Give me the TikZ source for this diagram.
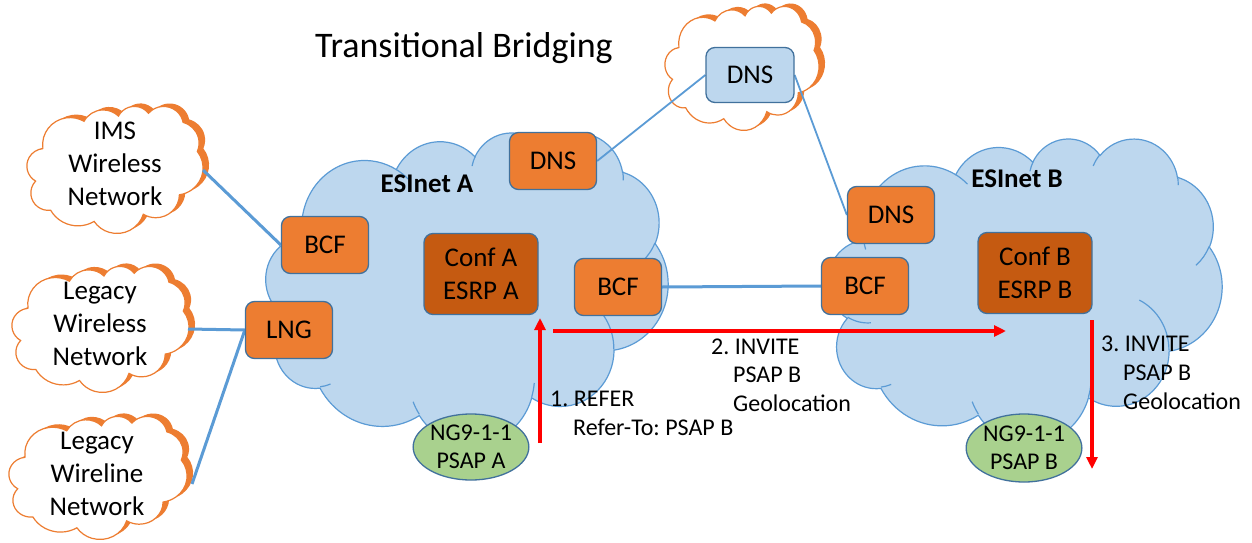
\documentclass[tikz,border=0pt]{standalone}
\usepackage{fontspec}
\setmainfont{Carlito}
\frenchspacing
\usetikzlibrary{arrows.meta,shapes.geometric}
\definecolor{boxor}{HTML}{ED7D31}
\definecolor{confor}{HTML}{C55A11}
\definecolor{lblue}{HTML}{BDD7EE}
\definecolor{edgeb}{HTML}{41719C}
\definecolor{lineb}{HTML}{5B9BD5}
\definecolor{psapg}{HTML}{A9D18E}
\definecolor{redarr}{HTML}{FF0000}
\pgfdeclarelayer{cloudlayer}
\pgfdeclarelayer{linelayer}
\pgfsetlayers{cloudlayer,linelayer,main}
% PowerPoint cloud arcs (OOXML arcTo, visual angles -> parametric)
\newcommand\defarc[5]{%
  \pgfmathsetmacro\cldta{atan2(#2*sin(#4),#3*cos(#4))}%
  \pgfmathsetmacro\cldtb{atan2(#2*sin(#4+#5),#3*cos(#4+#5))}%
  \pgfmathsetmacro\cldtd{mod(\cldtb-\cldta+720,360)}%
  \expandafter\xdef\csname cld#1\endcsname{arc[x radius=#2,y radius=#3,start angle=\cldta,delta angle=\cldtd]}}
\defarc{A}{67.53}{91.90}{-190.4875}{123.7805}
\defarc{B}{53.33}{72.67}{-144.1024}{89.9452}
\defarc{C}{43.65}{59.45}{-145.8079}{99.7230}
\defarc{D}{48.57}{65.95}{-130.9861}{117.2417}
\defarc{E}{53.33}{72.73}{-78.7089}{109.0269}
\defarc{F}{67.75}{92.20}{-46.2673}{130.2690}
\defarc{G}{57.85}{78.67}{0.6250}{114.0333}
\defarc{H}{67.52}{92.15}{22.4516}{115.1726}
\defarc{I}{77.20}{105.43}{66.2426}{75.7110}
\defarc{J}{43.60}{59.18}{-274.9421}{146.7356}
\defarc{K}{43.45}{59.45}{-246.8285}{152.5189}
\defarc{L}{43.45}{59.45}{86.742}{26.430}
\defarc{M}{43.60}{59.18}{73.610}{11.447}
\defarc{N}{67.52}{92.15}{137.624}{14.081}
\defarc{O}{67.52}{92.15}{6.453}{15.998}
\defarc{P}{57.85}{78.67}{-70.292}{70.917}
\defarc{Q}{53.33}{72.73}{30.318}{27.752}
\defarc{R}{48.57}{65.95}{-13.744}{14.859}
\defarc{S}{48.57}{65.95}{-149.181}{18.195}
\defarc{T}{43.65}{59.45}{-163.494}{17.686}
\defarc{U}{67.53}{91.90}{-66.707}{12.319}
\defarc{V}{67.53}{91.90}{157.654}{11.858}
\newcommand\pptcloud[5]{%
  \pgfmathsetmacro\cldw{#3/432}\pgfmathsetmacro\cldh{#4/432}%
  \begin{scope}[shift={(#1,#2)},x=\cldw pt,y=-\cldh pt]
    \path[#5] (39.00,143.70) \cldA \cldB \cldC \cldD \cldE \cldF \cldG \cldH \cldI \cldJ \cldK -- cycle;
  \end{scope}}
\newcommand\pptcloudinner[5]{%
  \pgfmathsetmacro\cldw{#3/432}\pgfmathsetmacro\cldh{#4/432}%
  \begin{scope}[shift={(#1,#2)},x=\cldw pt,y=-\cldh pt]
    \path[#5] (46.93,261.77) \cldL (69.28,348.99) \cldM (164.78,390.90) \cldN
      (288.27,347.51) \cldO (341.29,229.54) \cldP (417.98,153.54) \cldQ
      (383.24,54.26) \cldR (290.78,39.52) \cldS (221.41,47.20) \cldT
      (140.00,51.92) \cldU (41.27,157.89) \cldV;
  \end{scope}}
\newcommand\boxfont{\fontsize{27}{33}\selectfont}
\newcommand\lblfont{\fontsize{24}{28.5}\selectfont}
\newcommand\ellfont{\fontsize{24}{28}\selectfont}
\newcommand\titlefont{\fontsize{36}{40}\selectfont}
\begin{document}
\begin{tikzpicture}[x=1pt,y=-1pt,
  box/.style={draw=edgeb,line width=1.3pt,fill=boxor,rounded corners=9pt,
    minimum width=87pt,minimum height=57pt,inner sep=0pt,font=\boxfont,align=center},
  confbox/.style={box,fill=confor,minimum width=114pt,minimum height=81pt},
  psap/.style={ellipse,draw=edgeb,line width=1.3pt,fill=psapg,minimum width=112pt,
    minimum height=66pt,inner sep=0pt,font=\ellfont,align=center},
  cloudtext/.style={font=\boxfont,align=center},
  lbl/.style={font=\lblfont,anchor=base west,inner sep=0pt},
  link/.style={draw=lineb,line width=3pt},
  thinlink/.style={draw=lineb,line width=1.8pt},
  redarrow/.style={draw=redarr,line width=3.2pt,-{Triangle[length=12pt,width=11pt]}},
  esifill/.style={fill=lblue,draw=lineb,line width=1.2pt},
  esiinner/.style={draw=lineb,line width=1.2pt},
  orshadow/.style={fill=boxor},
  orcloud/.style={fill=white,draw=boxor,line width=1.2pt}
]
\useasboundingbox (0,0) rectangle (1252,543);
\begin{pgfonlayer}{cloudlayer}
  \fill[white] (0,0) rectangle (1252,543);
  % ESInet A and B
  \pptcloud{266}{132}{402}{312}{esifill}
  \pptcloudinner{266}{132}{402}{312}{esiinner}
  \pptcloud{828}{138}{394}{305}{esifill}
  \pptcloudinner{828}{138}{394}{305}{esiinner}
  % orange clouds
  \pptcloud{27+6}{106-3}{176}{127}{orshadow}
  \pptcloud{27}{106}{176}{127}{orcloud}
  \pptcloud{12+6}{266-3}{177}{126}{orshadow}
  \pptcloud{12}{266}{177}{126}{orcloud}
  \pptcloud{9+6}{416-3}{178}{123}{orshadow}
  \pptcloud{9}{416}{178}{123}{orcloud}
  \pptcloud{665+6}{6-3}{154}{124}{orshadow}
  \pptcloud{665}{6}{154}{124}{orcloud}
\end{pgfonlayer}

% nodes
\node[box] (bcfL) at (325,245) {BCF};
\node[box] (lng) at (289,330) {LNG};
\node[box] (dnsA) at (553,161) {DNS};
\node[confbox] (confA) at (481,274) {Conf A\\ESRP A};
\node[box] (bcfA) at (618,287) {BCF};
\node[psap] (psapA) at (471,447) {NG9-1-1\\PSAP A};
\node[box,fill=lblue,minimum width=88pt,minimum height=55pt] (dnsT) at (750,75) {DNS};
\node[box] (dnsB) at (891,215) {DNS};
\node[box] (bcfB) at (865,286) {BCF};
\node[confbox] (confB) at (1035,273) {Conf B\\ESRP B};
\node[psap,minimum height=68pt] (psapB) at (1024,448) {NG9-1-1\\PSAP B};

% cloud texts
\node[cloudtext] (imsT) at (115,164) {IMS\\Wireless\\Network};
\node[cloudtext] (lwT) at (100,324) {Legacy\\Wireless\\Network};
\node[cloudtext] (wlT) at (97,474) {Legacy\\Wireline\\Network};
\node[font=\boxfont\bfseries] (esA) at (427,184) {ESInet A};
\node[font=\boxfont\bfseries] (esB) at (1017,179) {ESInet B};
\node[font=\titlefont,anchor=base west,inner sep=0pt] (title) at (315,57) {Transitional Bridging};

% connectors
\coordinate (imsE) at (203,170);
\coordinate (lwE) at (188,329);
\coordinate (wlE) at (192,484);
\begin{pgfonlayer}{linelayer}
  \draw[link] (imsE) -- (bcfL.west);
  \draw[link] (lwE) -- (lng.west);
  \draw[link] (wlE) -- (lng.west);
  \draw[thinlink] (dnsA.east) -- (dnsT.west);
  \draw[thinlink] (dnsT.east) -- (dnsB.west);
  \draw[link] (bcfA.east) -- (bcfB.west);
\end{pgfonlayer}

% red message arrows
\coordinate (r1s) at (540,443);
\coordinate (r1e) at (540,318);
\coordinate (r2s) at (553,331);
\coordinate (r2e) at (1006,331);
\coordinate (r3s) at (1092,320);
\coordinate (r3e) at (1092,469);
\draw[redarrow] (r1s) -- (r1e);
\draw[redarrow] (r2s) -- (r2e);
\draw[redarrow] (r3s) -- (r3e);

% labels
\node[lbl] (l1a) at (550,406) {1. REFER};
\node[lbl] (l1b) at (573,435) {Refer-To: PSAP B};
\node[lbl] (l2a) at (711,354) {2. INVITE};
\node[lbl] (l2b) at (733,382) {PSAP B};
\node[lbl] (l2c) at (733,411) {Geolocation};
\node[lbl] (l3a) at (1101,351) {3. INVITE};
\node[lbl] (l3b) at (1123,380) {PSAP B};
\node[lbl] (l3c) at (1123,409) {Geolocation};
\end{tikzpicture}
\end{document}
